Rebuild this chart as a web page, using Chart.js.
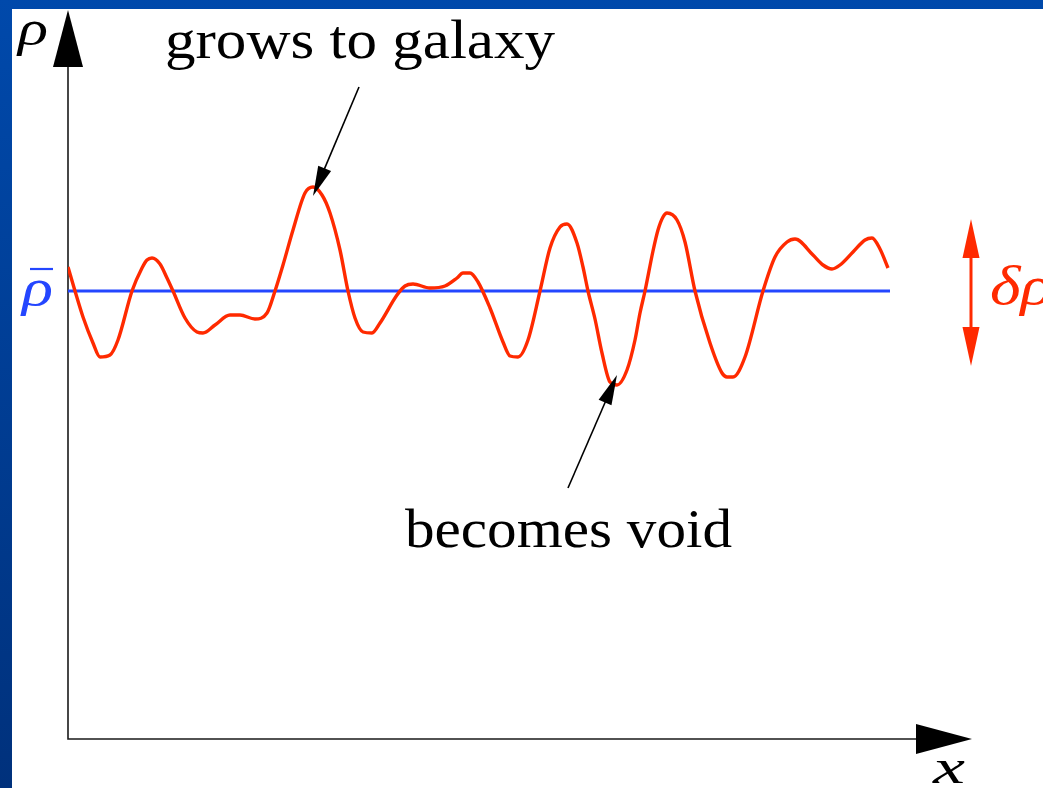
<!DOCTYPE html>
<html>
<head>
<meta charset="utf-8">
<script src="https://cdn.jsdelivr.net/npm/chart.js@4"></script>
<style>
    html, body { margin: 0; padding: 0; }
    body {
        width: 1043px;
        height: 788px;
        overflow: hidden;
        position: relative;
        background: linear-gradient(to bottom, #0049ab, #00317c);
    }
    #sheet {
        position: absolute;
        left: 12px; top: 9px; right: 0; bottom: 0;
        background: #fff;
    }
    #densityChart { position: absolute; left: 0; top: 0; }
</style>
</head>
<body>
<div id="sheet"></div>
<canvas id="densityChart" width="1043" height="788"></canvas>
<script>
// posicion a lo largo de x y contraste de densidad (rho - rho medio)
const positions = [0, 7, 15, 25, 32, 42, 50, 64, 74, 79, 84, 92, 99, 105, 117, 129, 135, 147, 162, 172, 187,
    199, 207, 215, 225, 237, 245, 254, 262, 272, 280, 287, 295, 304, 312, 329, 337, 345, 362, 377, 389,
    395, 402, 410, 422, 435, 442, 450, 460, 472, 482, 492, 499, 509, 515, 520, 527, 534, 542, 549, 559, 567, 572, 577, 585,
    590, 595, 599, 609, 617, 627, 642, 654, 659, 665, 677, 695, 707, 719, 727, 745, 755, 764, 772, 785, 797,
    804, 812, 820];
const density = [24, 0, -26, -52, -66, -64, -49, 0, 23, 31, 33, 27, 13, 0, -27, -41, -42, -34, -24, -24, -28,
    -22, 0, 26, 61, 98, 104, 96, 78, 41, 0, -27, -41, -42, -32, -4, 5, 7, 3, 5, 13,
    18, 18, 9, -17, -51, -65, -66, -49, 0, 43, 64, 67, 48, 24, 0, -28, -62, -91, -94, -79, -49, -22, 0, 40,
    61, 74, 78, 71, 49, 0, -52, -82, -86, -86, -66, 0, 34, 49, 52, 36, 26, 22, 26, 39, 51,
    53, 42, 23];
const meanLine = [0, 0];
const meanRange = [0, 822];

const xRange = [0, 904];
const yRange = [-448, 279];

const serif = '"Liberation Serif", "DejaVu Serif", serif';

function fitText(ctx, text, left, baseline, width, font, color) {
    ctx.font = font;
    const w = ctx.measureText(text).width;
    ctx.save();
    ctx.translate(left, baseline);
    ctx.scale(width / w, 1);
    ctx.fillStyle = color;
    ctx.textBaseline = 'alphabetic';
    ctx.fillText(text, 0, 0);
    ctx.restore();
}

function arrowHead(ctx, fromX, fromY, toX, toY, len, half, color) {
    const ang = Math.atan2(toY - fromY, toX - fromX);
    ctx.save();
    ctx.fillStyle = color;
    ctx.beginPath();
    ctx.moveTo(toX, toY);
    ctx.lineTo(toX - len * Math.cos(ang) + half * Math.sin(ang), toY - len * Math.sin(ang) - half * Math.cos(ang));
    ctx.lineTo(toX - len * Math.cos(ang) - half * Math.sin(ang), toY - len * Math.sin(ang) + half * Math.cos(ang));
    ctx.closePath();
    ctx.fill();
    ctx.restore();
}

function arrowLine(ctx, fromX, fromY, toX, toY, width, len, half, color) {
    const ang = Math.atan2(toY - fromY, toX - fromX);
    ctx.save();
    ctx.strokeStyle = color;
    ctx.lineWidth = width;
    ctx.beginPath();
    ctx.moveTo(fromX, fromY);
    ctx.lineTo(toX - len * 0.8 * Math.cos(ang), toY - len * 0.8 * Math.sin(ang));
    ctx.stroke();
    ctx.restore();
    arrowHead(ctx, fromX, fromY, toX, toY, len, half, color);
}

//ejes con flechas
const axesPlugin = {
    id: 'axesPlugin',
    beforeDatasetsDraw(chart) {
        const ctx = chart.ctx;
        const xs = chart.scales.x, ys = chart.scales.y;
        const x0 = xs.getPixelForValue(xRange[0]);
        const y0 = ys.getPixelForValue(yRange[0]);
        const xEnd = xs.getPixelForValue(xRange[1]);
        const yEnd = ys.getPixelForValue(yRange[1]);
        ctx.save();
        ctx.strokeStyle = '#1a1a1a';
        ctx.lineWidth = 1.6;
        ctx.beginPath();
        ctx.moveTo(x0, yEnd + 40);
        ctx.lineTo(x0, y0);
        ctx.lineTo(xEnd - 40, y0);
        ctx.stroke();
        ctx.restore();
        arrowHead(ctx, x0, y0, x0, yEnd - 2, 57, 15, '#000');
        arrowHead(ctx, x0, y0, xEnd, y0, 56, 15, '#000');
    },
    afterDatasetsDraw(chart) {
        const ctx = chart.ctx;
        const xs = chart.scales.x, ys = chart.scales.y;
        const px = v => xs.getPixelForValue(v);
        const py = v => ys.getPixelForValue(v);

        // etiquetas de ejes
        fitText(ctx, 'ρ', 18, 45, 30, 'italic 50px ' + serif, '#000');
        fitText(ctx, 'x', 933, 783, 32, 'italic 48px ' + serif, '#000');

        // rho medio
        fitText(ctx, 'ρ', 22, 305, 31, 'italic 52px ' + serif, '#2446ff');
        ctx.save();
        ctx.strokeStyle = '#2446ff';
        ctx.lineWidth = 2.2;
        ctx.beginPath();
        ctx.moveTo(30, 269);
        ctx.lineTo(53, 269);
        ctx.stroke();
        ctx.restore();

        // delta rho
        const dx = px(903);
        ctx.save();
        ctx.strokeStyle = '#ff2a00';
        ctx.lineWidth = 3;
        ctx.beginPath();
        ctx.moveTo(dx, 250);
        ctx.lineTo(dx, 335);
        ctx.stroke();
        ctx.restore();
        arrowHead(ctx, dx, 290, dx, 219, 39, 8.5, '#ff2a00');
        arrowHead(ctx, dx, 290, dx, 366, 39, 8.5, '#ff2a00');
        fitText(ctx, 'δρ', 990, 304, 62, 'italic 54px ' + serif, '#ff2a00');

        // anotaciones
        fitText(ctx, 'grows to galaxy', 165, 58, 390, '54px ' + serif, '#000');
        arrowLine(ctx, 359, 87, px(245), py(104) + 9, 1.6, 30, 7, '#000');
        fitText(ctx, 'becomes void', 405, 547, 327, '54px ' + serif, '#000');
        arrowLine(ctx, 568, 488, px(549), py(-94) - 10, 1.6, 30, 7, '#000');
    }
};

new Chart(document.getElementById('densityChart'), {
    type: 'scatter',
    data: {
        datasets: [
            {
                data: meanRange.map((x, i) => ({ x: x, y: meanLine[i] })),
                showLine: true,
                borderColor: '#2446ff',
                borderWidth: 3,
                pointRadius: 0,
                order: 2
            },
            {
                data: positions.map((x, i) => ({ x: x, y: density[i] })),
                showLine: true,
                borderColor: '#ff2a00',
                borderWidth: 3.4,
                pointRadius: 0,
                cubicInterpolationMode: 'monotone',
                order: 1
            }
        ]
    },
    options: {
        responsive: false,
        animation: false,
        events: [],
        layout: { padding: { left: 68, right: 71, top: 12, bottom: 49 } },
        plugins: { legend: { display: false }, tooltip: { enabled: false }, title: { display: false } },
        scales: {
            x: { type: 'linear', display: false, min: xRange[0], max: xRange[1] },
            y: { type: 'linear', display: false, min: yRange[0], max: yRange[1] }
        }
    },
    plugins: [axesPlugin]
});
</script>
</body>
</html>
